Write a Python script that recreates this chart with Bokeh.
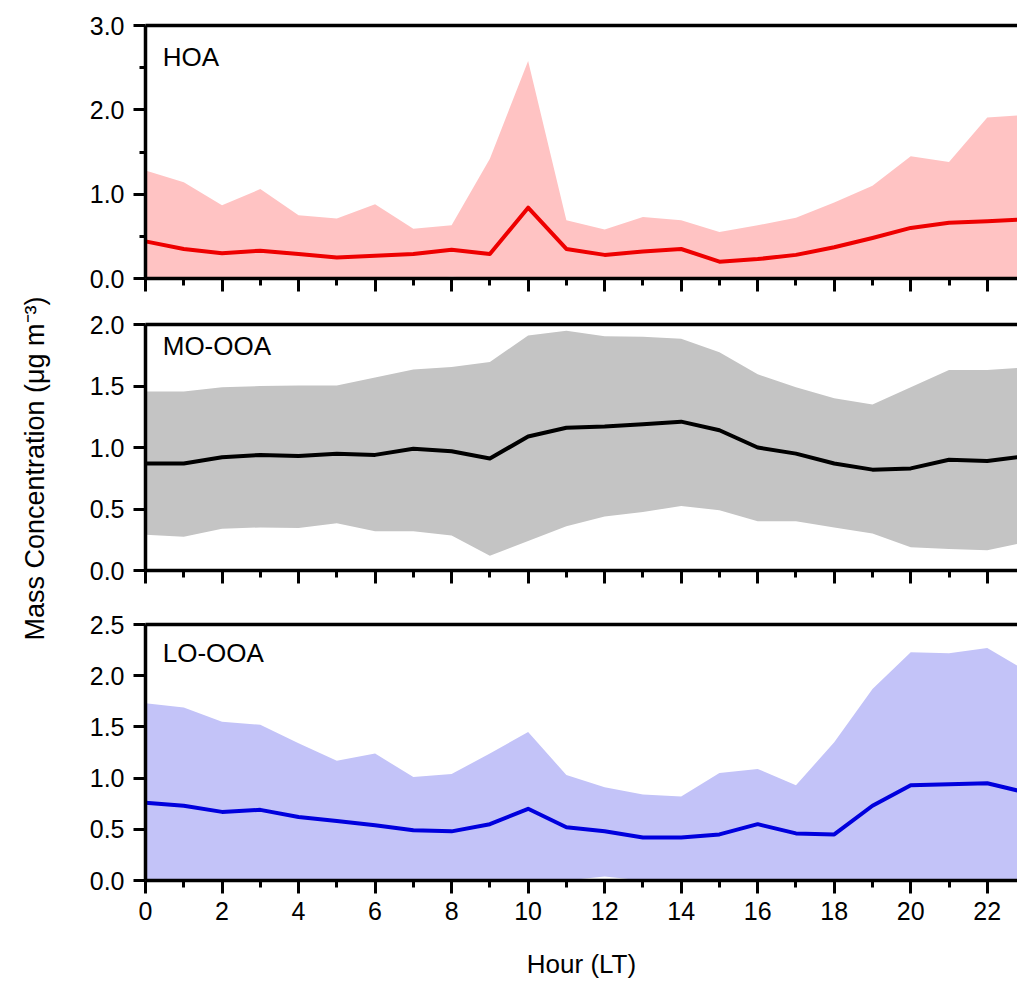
import math
from bokeh.plotting import figure
from bokeh.layouts import row, column
from bokeh.models import Range1d, FixedTicker, LinearAxis, NumeralTickFormatter, Label
from bokeh.embed import file_html
from bokeh.resources import INLINE
from bokeh.core.properties import value

# ---------------- data ----------------
hours = list(range(24))
x_ticks = list(range(0, 24, 2))
x_minor = list(range(1, 24, 2))

hoa_mean = [0.44, 0.35, 0.30, 0.33, 0.29, 0.25, 0.27, 0.29, 0.34, 0.29, 0.84, 0.35,
            0.28, 0.32, 0.35, 0.20, 0.23, 0.28, 0.37, 0.48, 0.60, 0.66, 0.68, 0.70]
hoa_upper = [1.28, 1.14, 0.87, 1.06, 0.75, 0.71, 0.88, 0.59, 0.63, 1.42, 2.58, 0.69,
             0.58, 0.73, 0.69, 0.55, 0.63, 0.72, 0.90, 1.10, 1.45, 1.38, 1.91, 1.94]
hoa_lower = [0.0, 0.0, 0.0, 0.0, 0.0, 0.0, 0.0, 0.0, 0.02, 0.0, 0.0, 0.0,
             0.0, 0.0, 0.0, 0.0, 0.0, 0.0, 0.0, 0.0, 0.0, 0.0, 0.0, 0.0]

mo_mean = [0.87, 0.87, 0.92, 0.94, 0.93, 0.95, 0.94, 0.99, 0.97, 0.91, 1.09, 1.16,
           1.17, 1.19, 1.21, 1.14, 1.00, 0.95, 0.87, 0.82, 0.83, 0.90, 0.89, 0.93]
mo_upper = [1.455, 1.455, 1.49, 1.50, 1.505, 1.505, 1.57, 1.635, 1.655, 1.695, 1.91, 1.95,
            1.905, 1.90, 1.885, 1.775, 1.595, 1.49, 1.40, 1.35, 1.49, 1.63, 1.63, 1.65]
mo_lower = [0.29, 0.275, 0.34, 0.35, 0.345, 0.385, 0.32, 0.32, 0.285, 0.12, 0.24, 0.36,
            0.44, 0.475, 0.525, 0.49, 0.40, 0.40, 0.35, 0.30, 0.19, 0.175, 0.165, 0.23]

lo_mean = [0.76, 0.73, 0.67, 0.69, 0.62, 0.58, 0.54, 0.49, 0.48, 0.55, 0.70, 0.52,
           0.48, 0.42, 0.42, 0.45, 0.55, 0.46, 0.45, 0.73, 0.93, 0.94, 0.95, 0.86]
lo_upper = [1.73, 1.69, 1.55, 1.52, 1.34, 1.17, 1.24, 1.01, 1.04, 1.24, 1.45, 1.03,
            0.91, 0.84, 0.82, 1.05, 1.09, 0.93, 1.35, 1.87, 2.23, 2.22, 2.27, 2.05]
lo_lower = [0.0, 0.0, 0.0, 0.0, 0.0, 0.0, 0.0, 0.0, 0.0, 0.0, 0.0, 0.0,
            0.04, 0.0, 0.0, 0.0, 0.0, 0.0, 0.0, 0.0, 0.0, 0.0, 0.0, 0.0]

panel_names = ["HOA", "MO-OOA", "LO-OOA"]
y_label = "Mass Concentration (\u03bcg m\u207b\u00b3)"
x_label = "Hour (LT)"

FONT = "Liberation Sans"
X_END = 22.79


def style_axis(ax):
    ax.axis_line_width = 3.5
    ax.axis_line_color = "black"
    ax.major_tick_line_width = 3
    ax.minor_tick_line_width = 3
    ax.major_tick_in = 0
    ax.minor_tick_in = 0
    ax.major_tick_out = 12
    ax.minor_tick_out = 6
    ax.major_label_text_font = FONT
    ax.major_label_text_font_size = "25px"
    ax.major_label_text_color = "black"


def make_panel(name, mean, lower, upper, ymax, yticks, yminor, fill, line,
               frame_h, top, bottom, last, label_y):
    p = figure(frame_width=872, frame_height=frame_h, output_backend="svg",
               toolbar_location=None, x_range=Range1d(0, X_END), y_range=Range1d(0, ymax),
               min_border_left=85, min_border_right=0, min_border_top=top,
               min_border_bottom=bottom)
    p.outline_line_color = None
    p.grid.visible = False
    p.background_fill_color = "white"
    p.border_fill_color = "white"

    p.varea(x=hours, y1=lower, y2=upper, fill_color=fill, fill_alpha=1.0)
    p.line(hours, mean, line_color=line, line_width=4, line_join="round")

    xa = p.xaxis[0]
    xa.ticker = FixedTicker(ticks=x_ticks, minor_ticks=x_minor)
    style_axis(xa)
    xa.major_tick_out = 13
    xa.minor_tick_out = 7
    if last:
        xa.major_label_standoff = 8
        xa.major_label_text_font_size = "25px"
        xa.axis_label = x_label
        xa.axis_label_text_font = FONT
        xa.axis_label_text_font_style = "normal"
        xa.axis_label_text_font_size = "26px"
        xa.axis_label_text_color = "black"
        xa.axis_label_standoff = 26
    else:
        xa.major_label_overrides = {t: "" for t in x_ticks}
        xa.major_label_standoff = 0

    ya = p.yaxis[0]
    ya.ticker = FixedTicker(ticks=yticks, minor_ticks=yminor)
    style_axis(ya)
    ya.major_label_standoff = 9
    ya.formatter = NumeralTickFormatter(format="0.0")

    top_axis = LinearAxis(ticker=FixedTicker(ticks=[]), axis_line_width=3.5,
                          axis_line_color="black", major_tick_out=0, minor_tick_out=0,
                          major_tick_in=0, minor_tick_in=0)
    p.add_layout(top_axis, "above")

    p.add_layout(Label(x=0.45, y=label_y, text=name, text_font=FONT,
                       text_font_size="26px", text_baseline="top", text_align="left",
                       text_color="black"))
    return p


p1 = make_panel(panel_names[0], hoa_mean, hoa_lower, hoa_upper, 3.0,
                [0, 1, 2, 3], [0.5, 1.5, 2.5], "#FFC3C3", "#EE0000",
                253, 25, 22, False, 2.80)
p2 = make_panel(panel_names[1], mo_mean, mo_lower, mo_upper, 2.0,
                [0, 0.5, 1.0, 1.5, 2.0], [], "#C4C4C4", "#000000",
                246, 24, 22, False, 1.95)
p3 = make_panel(panel_names[2], lo_mean, lo_lower, lo_upper, 2.5,
                [0, 0.5, 1.0, 1.5, 2.0, 2.5], [], "#C3C3F8", "#0000DD",
                256, 32, 105, True, 2.37)

# left strip holding the shared y-axis title
lab = figure(width=60, height=985, output_backend="svg", toolbar_location=None,
             x_range=Range1d(0, 60), y_range=Range1d(0, 985),
             x_axis_type=None, y_axis_type=None, min_border=0)
lab.outline_line_color = None
lab.grid.visible = False
lab.text(x=[34], y=[517], text=[y_label], angle=math.pi / 2,
         text_font=value(FONT), text_font_size="27px",
         text_align="center", text_baseline="middle", text_color="black")

layout = row(lab, column(p1, p2, p3, spacing=0), spacing=0)

with open("out.html", "w") as f:
    f.write(file_html(layout, INLINE))
